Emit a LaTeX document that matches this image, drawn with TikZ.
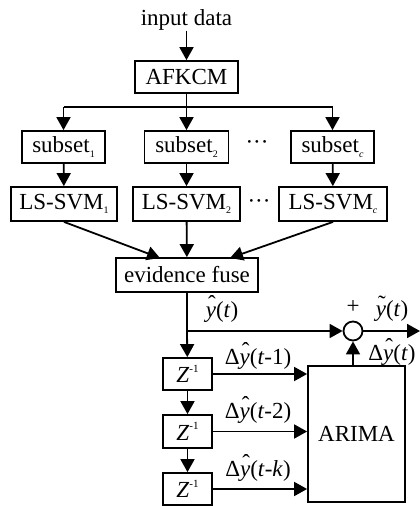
\documentclass[tikz,border=0pt]{standalone}
\usepackage{fontspec}
\setmainfont{Liberation Serif}
\usetikzlibrary{arrows.meta}
\newcommand{\sbs}[1]{\raisebox{-0.45ex}{\fontsize{10}{10}\selectfont #1}}
\newcommand{\sps}[1]{\raisebox{1.0ex}{\fontsize{11}{11}\selectfont #1}}
\newcommand{\hy}{\ooalign{\textit{y}\cr\hidewidth\kern2pt\raisebox{0.6ex}{ˆ}\hidewidth\cr}}
\newcommand{\ty}{\ooalign{\textit{y}\cr\hidewidth\kern2pt\raisebox{0.5ex}{˜}\hidewidth\cr}}
\begin{document}
\begin{tikzpicture}[x=1pt,y=-1pt,
  every node/.style={font=\fontsize{23}{26}\selectfont},
  box/.style={draw, line width=1.8pt, inner sep=0pt, minimum height=32pt},
  conn/.style={line width=1.8pt},
  arr/.style={line width=1.8pt, -{Triangle[length=13pt,width=14pt]}},
  lbl/.style={inner sep=0pt}]
\useasboundingbox (0,0) rectangle (420,506);
\node[lbl] (in) at (186.5,20) {input data};
\node[box, minimum width=103pt] (af) at (186.5,77) {AFKCM};
\node[box, minimum width=83pt] (s1) at (63.5,147) {subset\sbs{1}};
\node[box, minimum width=84pt] (s2) at (186.5,147) {subset\sbs{2}};
\node[box, minimum width=83pt] (sc) at (332.5,147) {subset\sbs{\textit{c}}};
\node[lbl] (d1) at (257,145) {···};
\node[box, minimum width=106pt, minimum height=34pt] (l1) at (64,204) {LS-SVM\sbs{1}};
\node[box, minimum width=107pt, minimum height=34pt] (l2) at (186.5,204) {LS-SVM\sbs{2}};
\node[box, minimum width=108pt, minimum height=34pt] (lc) at (333,204) {LS-SVM\sbs{\textit{c}}};
\node[lbl] (d2) at (259,204) {···};
\node[box, minimum width=142pt, minimum height=34pt] (ev) at (187,275) {evidence fuse};
\node[box, minimum width=49pt] (z1) at (187.5,374) {\textit{Z}\sps{-1}};
\node[box, minimum width=49pt, minimum height=33pt] (z2) at (187.5,431.5) {\textit{Z}\sps{-1}};
\node[box, minimum width=49pt] (z3) at (187.5,489) {\textit{Z}\sps{-1}};
\node[box, minimum width=97pt, minimum height=136pt] (ar) at (356.5,434) {ARIMA};
\node[draw, circle, line width=1.8pt, minimum size=19pt, inner sep=0pt] (sum) at (353,331) {};
\coordinate (br) at (186.5,107);
\coordinate (br1) at (63.5,107);
\coordinate (brc) at (332.5,107);
\coordinate (sp) at (187,331);
\coordinate (out) at (420,331);
\coordinate (e1) at (160,258);
\coordinate (ec) at (230,258);
% labels
\node[lbl] (ly) at (222,312) {\hy(\textit{t})};
\node[lbl] (lp) at (353,307) {+};
\node[lbl] (lty) at (392,311) {\ty(\textit{t})};
\node[lbl] (ldy) at (392,355) {Δ\hy(\textit{t})};
\node[lbl] (ld1) at (258,359) {Δ\hy(\textit{t}-1)};
\node[lbl] (ld2) at (258,413) {Δ\hy(\textit{t}-2)};
\node[lbl] (ldk) at (258,471) {Δ\hy(\textit{t}-\textit{k})};
% connectors
\draw[arr] (in) -- (af);
\draw[conn] (af) -- (br);
\draw[conn] (br1) -- (brc);
\draw[arr] (br1) -- (s1);
\draw[arr] (br) -- (s2);
\draw[arr] (brc) -- (sc);
\draw[arr] (s1) -- (l1);
\draw[arr] (s2) -- (l2);
\draw[arr] (sc) -- (lc);
\draw[arr] (l1.south) -- (e1);
\draw[arr] (l2) -- (ev);
\draw[arr] (lc.south) -- (ec);
\draw[conn] (ev) -- (sp);
\draw[arr] (sp) -- (sum);
\draw[arr] (sp) -- (z1);
\draw[arr] (sum) -- (out);
\draw[arr] (sum.south |- ar.north) -- (sum);
\draw[arr] (z1) -- (z2);
\draw[arr] (z2) -- (z3);
\draw[arr] (z1.east) -- (z1.east -| ar.west);
\draw[arr] (z2.east) -- (z2.east -| ar.west);
\draw[arr] (z3.east) -- (z3.east -| ar.west);
\end{tikzpicture}
\end{document}
